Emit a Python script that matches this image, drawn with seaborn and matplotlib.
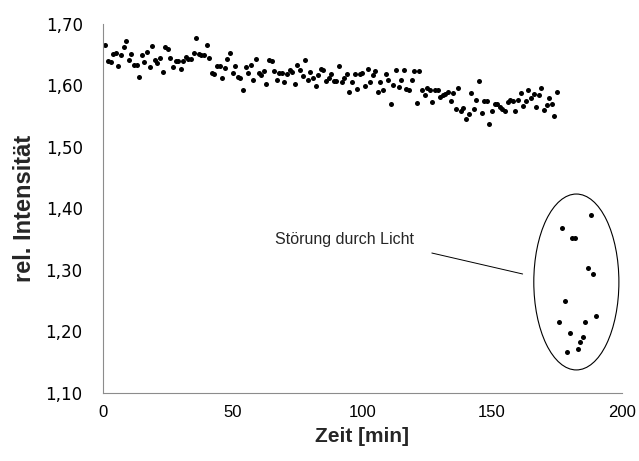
import matplotlib
matplotlib.use("Agg")
import matplotlib.pyplot as plt
from matplotlib.patches import Ellipse
from matplotlib.ticker import FuncFormatter
import pandas as pd
import seaborn as sns

# 1. Data (one reading per minute)
zeit = list(range(1, 191))
intensitaet = [
    1.666, 1.640, 1.638, 1.651, 1.653, 1.632, 1.649, 1.663, 1.672, 1.641,
    1.651, 1.634, 1.633, 1.614, 1.649, 1.638, 1.654, 1.630, 1.664, 1.641,
    1.637, 1.644, 1.622, 1.662, 1.660, 1.644, 1.630, 1.640, 1.640, 1.626,
    1.639, 1.646, 1.643, 1.643, 1.652, 1.678, 1.651, 1.650, 1.650, 1.665,
    1.645, 1.621, 1.618, 1.632, 1.632, 1.612, 1.628, 1.643, 1.653, 1.621,
    1.631, 1.613, 1.612, 1.593, 1.630, 1.620, 1.634, 1.609, 1.643, 1.621,
    1.617, 1.623, 1.602, 1.641, 1.639, 1.623, 1.609, 1.621, 1.621, 1.606,
    1.619, 1.625, 1.622, 1.602, 1.633, 1.625, 1.615, 1.641, 1.609, 1.622,
    1.612, 1.599, 1.617, 1.626, 1.625, 1.608, 1.612, 1.618, 1.607, 1.608,
    1.631, 1.605, 1.612, 1.618, 1.589, 1.606, 1.618, 1.594, 1.619, 1.621,
    1.599, 1.627, 1.605, 1.617, 1.623, 1.589, 1.605, 1.592, 1.619, 1.609,
    1.570, 1.601, 1.625, 1.597, 1.609, 1.625, 1.594, 1.593, 1.609, 1.624,
    1.572, 1.624, 1.593, 1.584, 1.596, 1.593, 1.573, 1.592, 1.593, 1.582,
    1.584, 1.586, 1.589, 1.575, 1.587, 1.561, 1.596, 1.559, 1.564, 1.545,
    1.554, 1.588, 1.561, 1.576, 1.607, 1.555, 1.574, 1.574, 1.538, 1.559,
    1.570, 1.570, 1.565, 1.562, 1.559, 1.573, 1.577, 1.574, 1.559, 1.576,
    1.587, 1.567, 1.575, 1.593, 1.580, 1.586, 1.565, 1.585, 1.596, 1.560,
    1.568, 1.580, 1.570, 1.551, 1.589,
    # Störung durch Licht
    1.215, 1.368, 1.249, 1.166, 1.198, 1.352, 1.352, 1.172, 1.183, 1.191,
    1.215, 1.303, 1.390, 1.294, 1.226,
]
df = pd.DataFrame({"Zeit": zeit, "Intensitaet": intensitaet})

y_ticks = [1.10, 1.20, 1.30, 1.40, 1.50, 1.60, 1.70]
x_ticks = [0, 50, 100, 150, 200]
annot_text = "Störung durch Licht"

# 2. Plot
sns.set_style("white")
fig = plt.figure(figsize=(6.39, 4.61), dpi=100)
ax = fig.add_axes([0.161, 0.1475, 0.812, 0.8005])

sns.scatterplot(data=df, x="Zeit", y="Intensitaet", color="black",
                s=13, edgecolor=None, linewidth=0, ax=ax)

# outlier ellipse + annotation
ax.add_patch(Ellipse((182.5, 1.2805), 32.8, 0.286, fill=False,
                     edgecolor="black", linewidth=0.8))
ax.text(66.3, 1.349, annot_text, fontsize=11.5, family="Liberation Sans",
        va="center", ha="left")
ax.plot([126.8, 161.8], [1.3276, 1.2935], color="black", linewidth=0.7)

# 3. Axes styling
ax.set_xlim(0, 200)
ax.set_ylim(1.10, 1.70)
ax.set_xticks(x_ticks)
ax.set_yticks(y_ticks)
ax.yaxis.set_major_formatter(FuncFormatter(lambda v, p: f"{v:.2f}".replace(".", ",")))
for side in ["top", "right"]:
    ax.spines[side].set_visible(False)
for side in ["left", "bottom"]:
    ax.spines[side].set_color("#8c8c8c")
    ax.spines[side].set_linewidth(0.8)
ax.tick_params(axis="both", direction="out", length=4.5, width=0.8,
               color="#8c8c8c", labelcolor="black")
ax.tick_params(axis="y", pad=10)
ax.tick_params(axis="x", pad=4)
for lbl in ax.get_yticklabels():
    lbl.set_fontfamily("DejaVu Sans")
    lbl.set_fontsize(12)
for lbl in ax.get_xticklabels():
    lbl.set_fontfamily("Liberation Sans")
    lbl.set_fontsize(12)

ax.set_xlabel("Zeit [min]", fontsize=15, fontweight="bold",
              family="Liberation Sans", labelpad=5)
ax.set_ylabel("rel. Intensität", fontsize=17, fontweight="bold",
              family="Liberation Sans", labelpad=7)

plt.savefig("out.png", dpi=100)
